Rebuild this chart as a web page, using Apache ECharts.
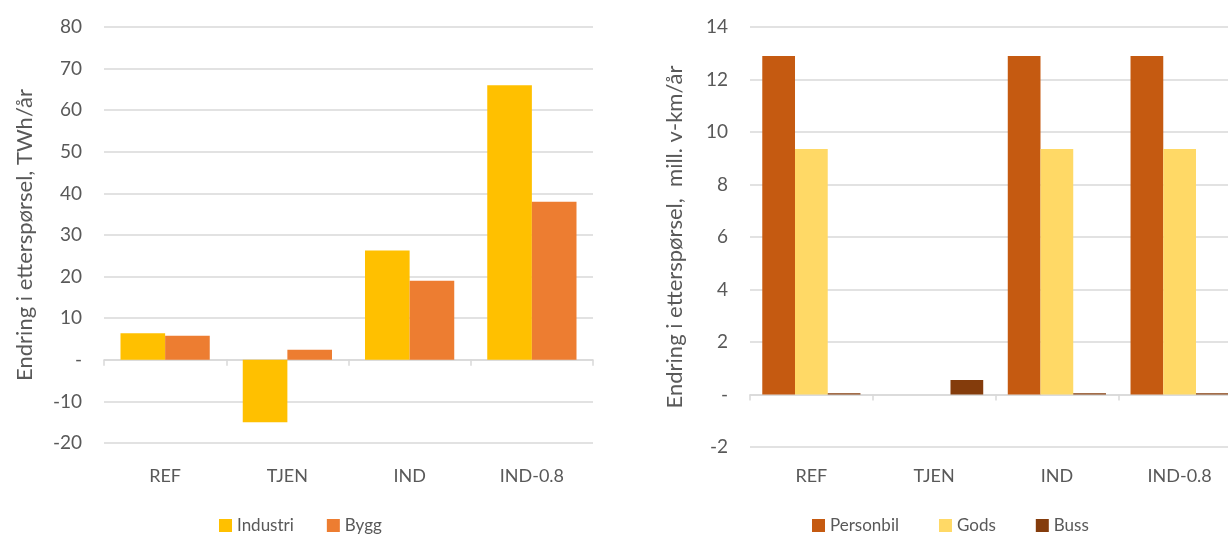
<!DOCTYPE html>
<html>
<head>
<meta charset="utf-8">
<script src="https://cdn.jsdelivr.net/npm/echarts@6/dist/echarts.min.js"></script>
<style>
  html, body { margin: 0; padding: 0; background: #fff; overflow: hidden; }
  /* the right panel runs slightly past the page edge */
  #chart { width: 1250px; height: 538px; }
</style>
</head>
<body>
<div id="chart"></div>
<script>
// Scenarios shared by both panels
const categories = ['REF', 'TJEN', 'IND', 'IND-0.8'];

// Energy demand change, TWh/år
const industri = [6.4, -15, 26.3, 66];
const bygg = [5.8, 2.4, 19, 38];

// Transport demand change, mill. v-km/år
const personbil = [12.9, 0, 12.9, 12.9];
const gods = [9.35, 0, 9.35, 9.35];
const buss = [0.05, 0.55, 0.05, 0.05];

const FONT = 'Lato, "Open Sans", sans-serif';
const TEXT = '#595959';
const GRID = '#d9d9d9';

const zeroDash = v => (v === 0 ? '-' : String(v));

function labelAxis(gridIndex, margin) {
  return {
    type: 'category', gridIndex, data: categories, position: 'bottom',
    axisLine: { show: false, onZero: false }, axisTick: { show: false },
    axisLabel: { color: TEXT, fontFamily: FONT, fontSize: 18, margin }
  };
}
function zeroAxis(gridIndex) {
  return {
    type: 'category', gridIndex, data: categories, position: 'bottom',
    axisLine: { show: true, onZero: true, lineStyle: { color: GRID, width: 1.5 } },
    axisTick: { show: true, length: 6, lineStyle: { color: GRID, width: 1.5 } },
    axisLabel: { show: false }
  };
}
function valueAxis(gridIndex, min, max, interval, name, nameGap) {
  return {
    type: 'value', gridIndex, min, max, interval,
    name, nameLocation: 'middle', nameGap,
    nameTextStyle: { color: TEXT, fontFamily: FONT, fontSize: 22 },
    axisLine: { show: false }, axisTick: { show: false },
    axisLabel: { color: TEXT, fontFamily: FONT, fontSize: 19, margin: 22, formatter: zeroDash },
    splitLine: { lineStyle: { color: GRID, width: 1.5 } }
  };
}

const chart = echarts.init(document.getElementById('chart'), null, { renderer: 'canvas' });
chart.setOption({
  animation: false,
  backgroundColor: '#fff',
  grid: [
    { left: 104, top: 27, width: 489, height: 416 },
    { left: 750, top: 27, width: 491, height: 420 }
  ],
  xAxis: [labelAxis(0, 24), zeroAxis(0), labelAxis(1, 20), zeroAxis(1)],
  yAxis: [
    valueAxis(0, -20, 80, 10, 'Endring i etterspørsel, TWh/år', 68),
    valueAxis(1, -2, 14, 2, 'Endring i etterspørsel,  mill. v-km/år', 64)
  ],
  legend: [
    {
      data: ['Industri', 'Bygg'], left: 214, top: 512,
      itemWidth: 13, itemHeight: 13, itemGap: 33, icon: 'rect',
      textStyle: { color: TEXT, fontFamily: FONT, fontSize: 17 }
    },
    {
      data: ['Personbil', 'Gods', 'Buss'], left: 807, top: 512,
      itemWidth: 13, itemHeight: 13, itemGap: 40, icon: 'rect',
      textStyle: { color: TEXT, fontFamily: FONT, fontSize: 17 }
    }
  ],
  series: [
    { name: 'Industri', type: 'bar', xAxisIndex: 0, yAxisIndex: 0, data: industri,
      itemStyle: { color: '#ffc000' }, barGap: '0%', barCategoryGap: '27%' },
    { name: 'Bygg', type: 'bar', xAxisIndex: 0, yAxisIndex: 0, data: bygg,
      itemStyle: { color: '#ed7d31' }, barGap: '0%', barCategoryGap: '27%' },
    { name: 'Personbil', type: 'bar', xAxisIndex: 2, yAxisIndex: 1, data: personbil,
      itemStyle: { color: '#c55a11' }, barGap: '0%', barCategoryGap: '20%' },
    { name: 'Gods', type: 'bar', xAxisIndex: 2, yAxisIndex: 1, data: gods,
      itemStyle: { color: '#ffd966' }, barGap: '0%', barCategoryGap: '20%' },
    { name: 'Buss', type: 'bar', xAxisIndex: 2, yAxisIndex: 1, data: buss,
      itemStyle: { color: '#843c0c' }, barGap: '0%', barCategoryGap: '20%' }
  ]
});
</script>
</body>
</html>
